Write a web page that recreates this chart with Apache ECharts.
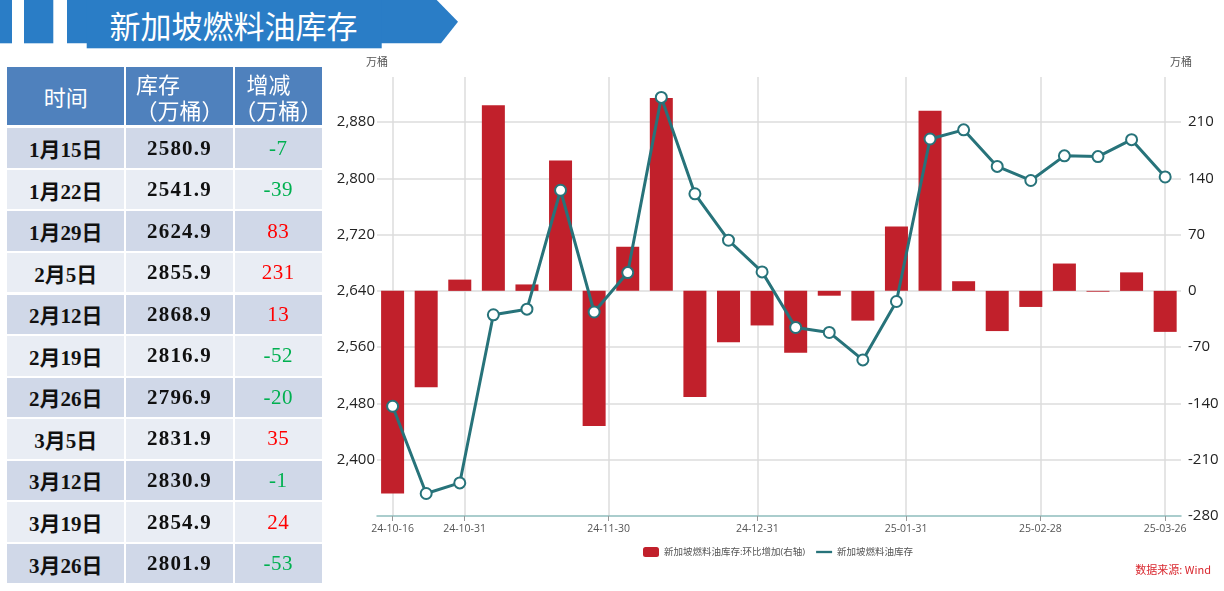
<!DOCTYPE html>
<html>
<head>
<meta charset="utf-8">
<script src="https://cdn.jsdelivr.net/npm/echarts@6/dist/echarts.min.js"></script>
<style>
html,body{margin:0;padding:0;background:#fff;}
#wrap{position:relative;width:1224px;height:591px;overflow:hidden;background:#fff;}
#chart{position:absolute;left:0;top:0;width:1224px;height:591px;}
#banner{position:absolute;left:0;top:0;}
#table{position:absolute;left:0;top:0;}
.cell{position:absolute;box-sizing:border-box;display:flex;align-items:center;justify-content:center;white-space:nowrap;}
.hd{background:#4f81bd;color:#fff;font-family:"Noto Sans CJK SC",sans-serif;font-size:22px;line-height:26px;flex-direction:column;align-items:stretch;}
.hd .l1{display:flex;justify-content:flex-start;}
.hd .l2{display:flex;justify-content:center;}
.bd{font-family:"Liberation Serif","Noto Sans CJK SC",serif;font-weight:bold;font-size:21px;color:#111;}
</style>
</head>
<body>
<div id="wrap">
  <div id="chart"></div>
  <svg id="banner" width="470" height="52" xmlns="http://www.w3.org/2000/svg">
    <rect x="0" y="0" width="12" height="43.3" fill="#2a7dc6"/>
    <rect x="24" y="0" width="29.3" height="43.3" fill="#2a7dc6"/>
    <polygon points="67,0 436.7,0 458,21.7 441,43.3 67,43.3" fill="#2a7dc6"/>
    <rect x="86.7" y="0" width="295" height="48.3" fill="#2a7dc6"/>
    <text x="233.5" y="24.5" text-anchor="middle" dominant-baseline="central" fill="#fff" font-size="31" font-family="Noto Sans CJK SC, sans-serif">新加坡燃料油库存</text>
  </svg>
  <div id="table"></div>
</div>
<script>
// ---------- table data ----------
const tableHeaders = ['时间', '库存', '增减'];
const tableHeaderUnit = '（万桶）';
const tableDates = ['1月15日','1月22日','1月29日','2月5日','2月12日','2月19日','2月26日','3月5日','3月12日','3月19日','3月26日'];
const tableStock = [2580.9, 2541.9, 2624.9, 2855.9, 2868.9, 2816.9, 2796.9, 2831.9, 2830.9, 2854.9, 2801.9];
const tableChange = [-7, -39, 83, 231, 13, -52, -20, 35, -1, 24, -53];

// ---------- chart data ----------
const weekDates = ['2024-10-16','2024-10-23','2024-10-30','2024-11-06','2024-11-13','2024-11-20','2024-11-27','2024-12-04','2024-12-11','2024-12-18','2024-12-25','2025-01-01','2025-01-08','2025-01-15','2025-01-22','2025-01-29','2025-02-05','2025-02-12','2025-02-19','2025-02-26','2025-03-05','2025-03-12','2025-03-19','2025-03-26'];
const inventory = [2476, 2352, 2367, 2606, 2614, 2783, 2610, 2666, 2915, 2778, 2712, 2667, 2588, 2580.9, 2541.9, 2624.9, 2855.9, 2868.9, 2816.9, 2796.9, 2831.9, 2830.9, 2854.9, 2801.9];
const weeklyChange = [-252, -120, 14, 231, 8, 162, -168, 55, 240, -132, -64, -43, -77, -6, -37, 80, 224, 12, -50, -20, 34, -1, 23, -51];
const xTickDates = ['2024-10-16','2024-10-31','2024-11-30','2024-12-31','2025-01-31','2025-02-28','2025-03-26'];
const barName = '新加坡燃料油库存:环比增加(右轴)';
const lineName = '新加坡燃料油库存';
const unitName = '万桶';
const sourceText = '数据来源: Wind';

// ---------- build table ----------
(function buildTable() {
  const t = document.getElementById('table');
  const colX = [7, 126, 235];
  const colW = [117.3, 107, 86.7];
  const hdTop = 66.7, hdH = 58.3;
  for (let c = 0; c < 3; c++) {
    const d = document.createElement('div');
    d.className = 'cell hd';
    d.style.left = colX[c] + 'px'; d.style.top = hdTop + 'px';
    d.style.width = colW[c] + 'px'; d.style.height = hdH + 'px';
    if (c === 0) {
      d.style.flexDirection = 'row';
      d.style.alignItems = 'center';
      d.textContent = tableHeaders[0];
    } else {
      const l1 = document.createElement('div');
      l1.className = 'l1';
      l1.style.paddingLeft = (c === 1 ? 10 : 11.5) + 'px';
      l1.textContent = tableHeaders[c];
      const l2 = document.createElement('div');
      l2.className = 'l2';
      l2.textContent = tableHeaderUnit;
      d.style.justifyContent = 'center';
      d.appendChild(l1); d.appendChild(l2);
    }
    t.appendChild(d);
  }
  const rowTop = 128.3, pitch = 41.55, rowH = 39.5;
  for (let r = 0; r < tableDates.length; r++) {
    const bg = r % 2 === 0 ? '#d0d8e8' : '#e9edf4';
    const vals = [tableDates[r], tableStock[r].toFixed(1), String(tableChange[r])];
    for (let c = 0; c < 3; c++) {
      const d = document.createElement('div');
      d.className = 'cell bd';
      d.style.left = colX[c] + 'px'; d.style.top = (rowTop + r * pitch) + 'px';
      d.style.width = colW[c] + 'px'; d.style.height = rowH + 'px';
      d.style.background = bg;
      d.textContent = vals[c];
      if (c === 1) d.style.letterSpacing = '1.2px';
      if (c === 2) {
        d.style.color = tableChange[r] < 0 ? '#00b050' : '#ff0000';
        d.style.fontWeight = 'normal';
        d.style.letterSpacing = '0.5px';
      }
      t.appendChild(d);
    }
  }
})();

// ---------- chart ----------
function ts(s) { const p = s.split('-').map(Number); return Date.UTC(p[0], p[1] - 1, p[2]); }
function pad(n) { return (n < 10 ? '0' : '') + n; }
const DAY = 86400000;
const weekTs = weekDates.map(ts);
const tickTs = xTickDates.map(ts);
const lineData = weekTs.map((t, i) => [t, inventory[i]]);
const barData = weekTs.map((t, i) => [t, weeklyChange[i]]);

const teal = '#27737a';
const red = '#c1202b';
const font = "'Open Sans','Noto Sans CJK SC',sans-serif";

const chart = echarts.init(document.getElementById('chart'), null, { renderer: 'canvas' });
chart.setOption({
  animation: false,
  backgroundColor: 'transparent',
  grid: { left: 377, right: 43, top: 77, bottom: 75, containLabel: false },
  legend: {
    left: 643, top: 547, padding: 0,
    itemWidth: 16, itemHeight: 10, itemGap: 11,
    textStyle: { fontSize: 9.5, color: '#555', fontFamily: font },
    data: [
      { name: barName, icon: 'roundRect' },
      { name: lineName, icon: 'path://M0,0H24V3.5H0Z', itemStyle: { color: teal, borderWidth: 0 } }
    ]
  },
  xAxis: {
    type: 'value',
    min: weekTs[0] - 3.25 * DAY,
    max: weekTs[weekTs.length - 1] + 3.3 * DAY,
    axisLine: { show: true, onZero: false, lineStyle: { color: '#8fbdbd', width: 1.5 } },
    axisTick: { show: true, customValues: tickTs, length: 5, lineStyle: { color: '#999' } },
    axisLabel: {
      customValues: tickTs, margin: 8, color: '#555', fontSize: 10.5, fontFamily: font,
      formatter: function (v) { const d = new Date(v); return String(d.getUTCFullYear()).slice(2) + '-' + pad(d.getUTCMonth() + 1) + '-' + pad(d.getUTCDate()); }
    },
    splitLine: { show: true, lineStyle: { color: '#dcdcdc', width: 1.5 } }
  },
  yAxis: [
    {
      type: 'value', position: 'left', min: 2320, max: 2944, interval: 80,
      name: unitName, nameLocation: 'end', nameGap: 9,
      nameTextStyle: { fontSize: 11, color: '#555', fontFamily: font },
      axisLine: { show: false }, axisTick: { show: false },
      axisLabel: { showMinLabel: false, showMaxLabel: false, margin: 2, color: '#222', fontSize: 15, fontFamily: font },
      splitLine: { show: true, showMinLine: false, showMaxLine: false, lineStyle: { color: '#dcdcdc', width: 1.5 } }
    },
    {
      type: 'value', position: 'right', min: -280, max: 266, interval: 70,
      name: unitName, nameLocation: 'end', nameGap: 9,
      nameTextStyle: { fontSize: 11, color: '#555', fontFamily: font },
      axisLine: { show: false }, axisTick: { show: false },
      axisLabel: { showMaxLabel: false, margin: 7, color: '#222', fontSize: 15, fontFamily: font },
      splitLine: { show: false }
    }
  ],
  series: [
    {
      name: barName, type: 'bar', yAxisIndex: 1, barWidth: 23,
      itemStyle: { color: red },
      data: barData, z: 2
    },
    {
      name: lineName, type: 'line', yAxisIndex: 0,
      symbol: 'circle', symbolSize: 11, showAllSymbol: true,
      lineStyle: { color: teal, width: 3 },
      itemStyle: { color: '#fff', borderColor: teal, borderWidth: 2 },
      data: lineData, z: 3
    }
  ],
  graphic: [
    { type: 'text', right: 13, top: 564, style: { text: sourceText, fill: '#d9272e', font: "11px 'Noto Sans CJK SC', sans-serif" } }
  ]
});
</script>
</body>
</html>
